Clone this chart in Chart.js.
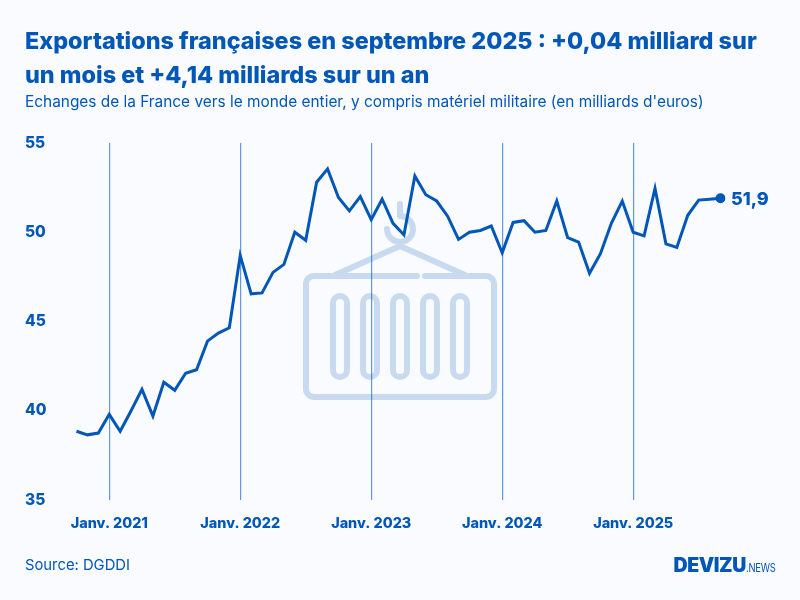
<!DOCTYPE html>
<html lang="fr">
<head>
<meta charset="utf-8">
<title>Exportations françaises</title>
<script src="https://cdn.jsdelivr.net/npm/chart.js@4"></script>
<style>
    html, body { margin: 0; padding: 0; background: #f9fbfe; }
    body { width: 800px; height: 600px; position: relative; overflow: hidden; font-family: Inter, sans-serif; color: #0057b8; }
    .txt { position: absolute; white-space: nowrap; }
    #title { left: 25px; top: 24px; font-size: 23.4px; font-weight: 800; line-height: 34px; }
    #subtitle { left: 25px; top: 92px; font-size: 15.4px; font-weight: 400; }
    #source { left: 25px; top: 556px; font-size: 14.8px; font-weight: 400; }
    #logo { left: 673.5px; top: 553px; font-size: 19.5px; font-weight: 900; letter-spacing: -0.4px; }
    #logo span { display: inline-block; font-size: 11.5px; font-weight: 400; letter-spacing: -0.3px; transform: scaleX(0.82); transform-origin: left; }
    #icon, #barChart { position: absolute; left: 0; top: 0; }
</style>
</head>
<body>
<svg id="icon" width="800" height="600" fill="none" stroke="#c8daf0" stroke-linecap="round" stroke-linejoin="round">
    <g stroke-width="6">
        <path d="M417 276H314a8 8 0 0 0-8 8V389a8 8 0 0 0 8 8H486a8 8 0 0 0 8-8V284a8 8 0 0 0-8-8H425"/>
        <path d="M335 275L400 246L465 275"/>
        <rect x="333" y="296" width="14" height="81" rx="7"/>
        <rect x="363" y="296" width="14" height="81" rx="7"/>
        <rect x="393" y="296" width="14" height="81" rx="7"/>
        <rect x="423" y="296" width="14" height="81" rx="7"/>
        <rect x="453" y="296" width="14" height="81" rx="7"/>
        <path d="M400 204V216A13 13 0 1 1 387 229"/>
    </g>
</svg>
<canvas id="barChart" width="800" height="600"></canvas>
<div class="txt" id="title">Exportations françaises en septembre 2025 : +0,04 milliard sur<br>un mois et +4,14 milliards sur un an</div>
<div class="txt" id="subtitle">Echanges de la France vers le monde entier, y compris matériel militaire (en milliards d'euros)</div>
<div class="txt" id="source">Source: DGDDI</div>
<div class="txt" id="logo">DEVIZU<span>.NEWS</span></div>
<script>
const months = [
    'Oct. 2020', 'Nov. 2020', 'Déc. 2020',
    'Janv. 2021', 'Févr. 2021', 'Mars 2021', 'Avr. 2021', 'Mai 2021', 'Juin 2021', 'Juil. 2021', 'Août 2021', 'Sept. 2021', 'Oct. 2021', 'Nov. 2021', 'Déc. 2021',
    'Janv. 2022', 'Févr. 2022', 'Mars 2022', 'Avr. 2022', 'Mai 2022', 'Juin 2022', 'Juil. 2022', 'Août 2022', 'Sept. 2022', 'Oct. 2022', 'Nov. 2022', 'Déc. 2022',
    'Janv. 2023', 'Févr. 2023', 'Mars 2023', 'Avr. 2023', 'Mai 2023', 'Juin 2023', 'Juil. 2023', 'Août 2023', 'Sept. 2023', 'Oct. 2023', 'Nov. 2023', 'Déc. 2023',
    'Janv. 2024', 'Févr. 2024', 'Mars 2024', 'Avr. 2024', 'Mai 2024', 'Juin 2024', 'Juil. 2024', 'Août 2024', 'Sept. 2024', 'Oct. 2024', 'Nov. 2024', 'Déc. 2024',
    'Janv. 2025', 'Févr. 2025', 'Mars 2025', 'Avr. 2025', 'Mai 2025', 'Juin 2025', 'Juil. 2025', 'Août 2025', 'Sept. 2025'
];
const exportsValues = [
    38.85, 38.65, 38.75,
    39.8, 38.85, 40, 41.2, 39.7, 41.6, 41.15, 42.1, 42.3, 43.9, 44.35, 44.65,
    48.7, 46.55, 46.6, 47.75, 48.2, 50, 49.55, 52.8, 53.55, 51.95, 51.2, 52,
    50.7, 51.85, 50.5, 49.85, 53.15, 52.1, 51.75, 50.9, 49.6, 50, 50.1, 50.35,
    48.85, 50.55, 50.65, 50, 50.1, 51.75, 49.7, 49.45, 47.7, 48.8, 50.5, 51.75,
    50, 49.8, 52.45, 49.35, 49.15, 50.95, 51.8, 51.85, 51.9
];
const yTicks = [35, 40, 45, 50, 55];

const blue = '#0057b8';

// label next to the last point
const lastLabel = {
    id: 'lastLabel',
    afterDatasetsDraw(chart) {
        const pts = chart.getDatasetMeta(0).data;
        const last = pts[pts.length - 1];
        const value = exportsValues[exportsValues.length - 1];
        const ctx = chart.ctx;
        ctx.save();
        ctx.font = '800 18px Inter';
        ctx.fillStyle = blue;
        ctx.textAlign = 'left';
        ctx.textBaseline = 'middle';
        ctx.fillText(String(value).replace('.', ','), last.x + 10.5, last.y + 1);
        ctx.restore();
    }
};

new Chart(document.getElementById('barChart').getContext('2d'), {
    type: 'line',
    plugins: [lastLabel],
    data: {
        labels: months,
        datasets: [{
            data: exportsValues,
            borderColor: blue,
            backgroundColor: blue,
            borderWidth: 3,
            tension: 0,
            pointBorderWidth: 0,
            pointRadius: (c) => c.dataIndex === exportsValues.length - 1 ? 5 : 0
        }]
    },
    options: {
        responsive: false,
        animation: false,
        devicePixelRatio: 1,
        layout: { padding: { left: 25, right: 79.5, top: 143, bottom: 0 } },
        plugins: { legend: { display: false }, tooltip: { enabled: false } },
        scales: {
            x: {
                type: 'category',
                border: { display: false },
                grid: {
                    drawTicks: false,
                    lineWidth: 1.2,
                    color: (c) => c.tick && c.tick.label ? 'rgba(0, 87, 200, 0.6)' : 'rgba(0, 0, 0, 0)'
                },
                afterFit(axis) { axis.height = 100; },
                ticks: {
                    autoSkip: false,
                    maxRotation: 0,
                    padding: 15,
                    color: blue,
                    font: { family: 'Inter', size: 14.4, weight: '800' },
                    callback(val) {
                        const label = this.getLabelForValue(val);
                        return label.startsWith('Janv.') ? label : '';
                    }
                }
            },
            y: {
                min: 35,
                max: 55,
                border: { display: false },
                grid: { display: false, drawTicks: false },
                afterBuildTicks(axis) { axis.ticks = yTicks.map((v) => ({ value: v })); },
                afterFit(axis) { axis.width = 51.5; },
                ticks: {
                    crossAlign: 'far',
                    padding: 0,
                    color: blue,
                    font: { family: 'Inter', size: 15.5, weight: '800' }
                }
            }
        }
    }
});
</script>
</body>
</html>
